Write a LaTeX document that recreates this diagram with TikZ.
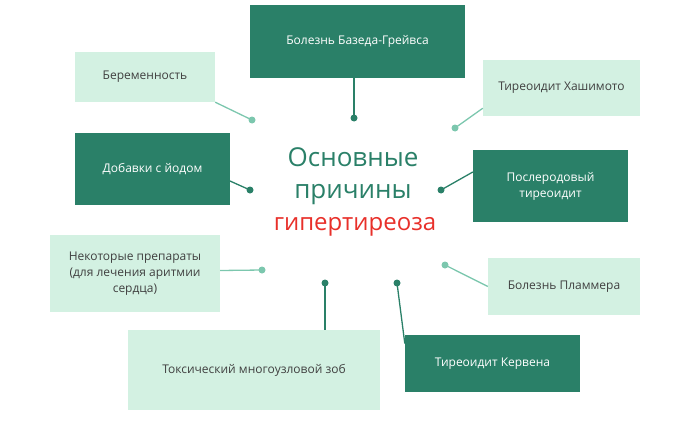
\documentclass[tikz,border=0pt]{standalone}
\usepackage{fontspec}
\setmainfont{Open Sans}
\definecolor{dk}{HTML}{2A8068}
\definecolor{lt}{HTML}{D3F1E2}
\definecolor{ltl}{HTML}{7CC7AE}
\definecolor{txt}{HTML}{404040}
\definecolor{rd}{HTML}{E8302A}
\begin{document}
\begin{tikzpicture}[x=1pt,y=-1pt,
 dkbox/.style={fill=dk,text=white,font=\fontsize{12}{16}\selectfont,align=center,inner sep=0},
 ltbox/.style={fill=lt,text=txt,font=\fontsize{12}{16}\selectfont,align=center,inner sep=0},
 dkline/.style={draw=dk,line width=1.3pt},
 ltline/.style={draw=ltl,line width=1.3pt},
 dkdot/.style={circle,fill=dk,inner sep=0,minimum size=7pt},
 ltdot/.style={circle,fill=ltl,inner sep=0,minimum size=7pt}]
\useasboundingbox (0,0) rectangle (700,420);
\node[dkbox,minimum width=215,minimum height=73] (bg) at (357.5,41.5) {Болезнь Базеда-Грейвса};
\node[ltbox,minimum width=140,minimum height=50] (ber) at (145,77) {Беременность};
\node[ltbox,minimum width=157,minimum height=56] (hash) at (561.5,88) {Тиреоидит Хашимото};
\node[dkbox,minimum width=155,minimum height=72] (iod) at (152.5,169) {Добавки с йодом};
\node[dkbox,minimum width=155,minimum height=72] (post) at (550.5,186) {Послеродовый\\тиреоидит};
\node[ltbox,minimum width=170,minimum height=77] (prep) at (135,273.5) {Некоторые препараты\\(для лечения аритмии\\сердца)};
\node[ltbox,minimum width=152,minimum height=57] (plum) at (564,286.5) {Болезнь Пламмера};
\node[dkbox,minimum width=175,minimum height=57] (kerv) at (492.5,363.5) {Тиреоидит Кервена};
\node[ltbox,minimum width=252,minimum height=80] (zob) at (254,370) {Токсический многоузловой зоб};

\node[dkdot] (d1) at (354,118) {};
\node[ltdot] (d2) at (252,120) {};
\node[ltdot] (d3) at (455,128) {};
\node[dkdot] (d4) at (250,190) {};
\node[dkdot] (d5) at (441,190) {};
\node[ltdot] (d6) at (262,270) {};
\node[ltdot] (d7) at (445,265) {};
\node[dkdot] (d8) at (397,283) {};
\node[dkdot] (d9) at (325,283) {};

\draw[dkline] (354,78) -- (d1.center);
\draw[ltline] (ber.south east) -- (d2.center);
\draw[ltline] (hash.south west) ++(0,-8) -- (d3.center);
\draw[dkline] (230,181) -- (d4.center);
\draw[dkline] (post.west) ++(0,-14) -- (d5.center);
\draw[ltline] (prep.east) ++(0,-3) -- (d6.center);
\draw[ltline] (plum.west) -- (d7.center);
\draw[dkline] (kerv.west) ++(0,-20) -- (d8.center);
\draw[dkline] (zob.north) ++(71,0) -- (d9.center);

\node[text=dk,font=\fontsize{26}{32}\selectfont,align=center] (t1) at (353,176) {Основные\\причины};
\node[text=rd,font=\fontsize{24}{28}\selectfont] (t2) at (355,227) {гипертиреоза};
\end{tikzpicture}
\end{document}
